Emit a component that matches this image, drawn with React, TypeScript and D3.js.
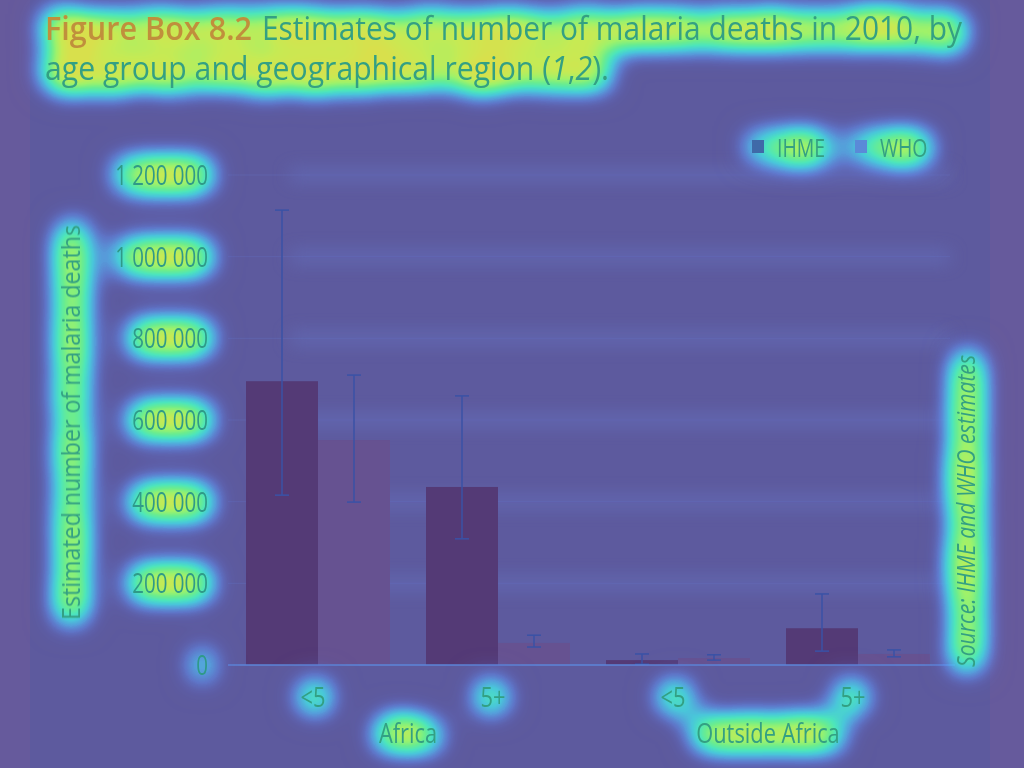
import React from "react";
import * as d3 from "d3";

const ageGroups = ["<5", "5+", "<5", "5+"];
const regions = ["Africa", "Outside Africa"];
const seriesNames = ["IHME", "WHO"];
const ihme = [695000, 436000, 12000, 90000];
const ihmeLow = [416000, 309000, 2000, 34000];
const ihmeHigh = [1114000, 659000, 27000, 174000];
const who = [551000, 54000, 17000, 27000];
const whoLow = [399000, 44000, 12000, 20000];
const whoHigh = [710000, 73000, 25000, 37000];
const yTicks = [0, 200000, 400000, 600000, 800000, 1000000, 1200000];

const W = 1024;
const H = 768;
const FONT = "'Open Sans', sans-serif";
const TEXT = "#33a083";
const BG = "#5d5a9e";
const IHME_C = "#543a76";
const WHO_C = "#665291";
const ERR = "#3a52a6";
const SX = 0.78;

const fmt = (v: number) => d3.format(",")(v).replace(/,/g, " ");

function T(props: any) {
  const { x, y, sx = SX, children, ...rest } = props;
  return (
    <text transform={`translate(${x},${y}) scale(${sx},1)`} {...rest}>
      {children}
    </text>
  );
}

export default function App() {
  const keys = ageGroups.map((_, i) => String(i));
  const x0 = d3.scaleBand().domain(keys).range([228, 948]).paddingInner(0.2).paddingOuter(0.1);
  const x1 = d3.scaleBand().domain(seriesNames).range([0, x0.bandwidth()]);
  const y = d3.scaleLinear().domain([0, 1200000]).range([665, 175]);
  const series = [
    { name: "IHME", vals: ihme, lo: ihmeLow, hi: ihmeHigh, color: IHME_C },
    { name: "WHO", vals: who, lo: whoLow, hi: whoHigh, color: WHO_C },
  ];
  const regionCenter = (r: number) => {
    const a = x0(String(r * 2))!;
    const b = x0(String(r * 2 + 1))! + x0.bandwidth();
    return (a + b) / 2;
  };
  return (
    <svg width={W} height={H} style={{ position: "absolute", left: 0, top: 0, display: "block" }}>
      <defs>
        <filter id="heat" x="-30%" y="-90%" width="160%" height="280%" colorInterpolationFilters="sRGB">
          <feMorphology in="SourceAlpha" operator="dilate" radius="4" result="d" />
          <feGaussianBlur in="d" stdDeviation="16" result="b" />
          <feColorMatrix in="b" type="matrix" values="0 0 0 1.45 0  0 0 0 1.45 0  0 0 0 1.45 0  0 0 0 1.45 0" result="g" />
          <feComponentTransfer in="g" result="c">
            <feFuncR type="table" tableValues="0.36 0.37 0.38 0.33 0.28 0.30 0.42 0.62 0.78 0.85" />
            <feFuncG type="table" tableValues="0.35 0.45 0.58 0.72 0.83 0.90 0.93 0.95 0.92 0.88" />
            <feFuncB type="table" tableValues="0.62 0.82 0.96 0.95 0.88 0.74 0.56 0.42 0.33 0.30" />
            <feFuncA type="table" tableValues="0 0.22 0.48 0.72 0.9 1 1 1 1 1" />
          </feComponentTransfer>
          <feMerge>
            <feMergeNode in="c" />
            <feMergeNode in="SourceGraphic" />
          </feMerge>
        </filter>
        <filter id="soft" x="-5%" y="-300%" width="110%" height="700%" colorInterpolationFilters="sRGB">
          <feGaussianBlur in="SourceGraphic" stdDeviation="9" />
        </filter>
      </defs>
      <rect x={0} y={0} width={W} height={H} fill="#665a9c" />
      <rect x={30} y={0} width={960} height={H} fill={BG} />

      {/* soft gridline bands */}
      <g filter="url(#soft)">
        {yTicks.filter((t) => t > 0).map((t) => (
          <line key={t} x1={290} x2={950} y1={y(t)} y2={y(t)} stroke="#6d86dc" strokeWidth={10} opacity={0.45} />
        ))}
      </g>
      {yTicks.filter((t) => t > 0).map((t) => (
        <line key={"g" + t} x1={228} x2={950} y1={y(t)} y2={y(t)} stroke="#6470c0" strokeWidth={1} opacity={0.4} />
      ))}

      {/* bars */}
      {series.map((s) =>
        s.vals.map((v, i) => (
          <rect
            key={s.name + i}
            x={x0(String(i))! + x1(s.name)!}
            y={y(v)}
            width={x1.bandwidth()}
            height={y(0) - y(v)}
            fill={s.color}
          />
        ))
      )}
      {/* error bars */}
      {series.map((s) =>
        s.vals.map((_, i) => {
          const cx = x0(String(i))! + x1(s.name)! + x1.bandwidth() / 2;
          return (
            <g key={"e" + s.name + i} stroke={ERR} strokeWidth={1.5}>
              <line x1={cx} x2={cx} y1={y(s.hi[i])} y2={y(s.lo[i])} />
              <line x1={cx - 7} x2={cx + 7} y1={y(s.hi[i])} y2={y(s.hi[i])} />
              <line x1={cx - 7} x2={cx + 7} y1={y(s.lo[i])} y2={y(s.lo[i])} />
            </g>
          );
        })
      )}
      <g filter="url(#soft)">
        <line x1={228} x2={955} y1={y(0) + 5} y2={y(0) + 5} stroke="#5fa0f0" strokeWidth={12} opacity={0.7} />
      </g>
      <line x1={228} x2={955} y1={y(0)} y2={y(0)} stroke="#5d86d8" strokeWidth={1.5} />

      <g filter="url(#heat)" fontFamily={FONT} fill={TEXT} fontWeight={400}>
        {/* title */}
        <text x={45} y={40} fontSize={32} fontWeight={600} fill="#c08f3c" textLength={207} lengthAdjust="spacingAndGlyphs">
          Figure Box 8.2
        </text>
        <text x={262} y={40} fontSize={33} textLength={700} lengthAdjust="spacingAndGlyphs">
          Estimates of number of malaria deaths in 2010, by
        </text>
        <T x={45} y={80} fontSize={33} sx={0.915}>
          age group and geographical region (<tspan fontStyle="italic">1</tspan>,<tspan fontStyle="italic">2</tspan>).
        </T>

        {/* y ticks */}
        {yTicks.map((t) => (
          <T key={t} x={208} y={y(t) + 10} fontSize={27} textAnchor="end" fill="#2f9a88" sx={0.76}>
            {fmt(t)}
          </T>
        ))}
        {/* y label */}
        <text
          transform={`translate(80, ${(225 + 620) / 2}) rotate(-90)`}
          textAnchor="middle"
          fontSize={26}
          textLength={395}
          lengthAdjust="spacingAndGlyphs"
        >
          Estimated number of malaria deaths
        </text>

        {/* x labels */}
        {ageGroups.map((g, i) => (
          <T key={"x" + i} x={x0(String(i))! + x0.bandwidth() / 2 - 5} y={707} fontSize={28} textAnchor="middle">
            {g}
          </T>
        ))}
        {regions.map((r, i) => (
          <T key={r} x={regionCenter(i)} y={743} fontSize={28} textAnchor="middle">
            {r}
          </T>
        ))}

        {/* legend */}
        {seriesNames.map((n, i) => (
          <g key={n} transform={`translate(${752 + i * 103}, 140)`}>
            <rect x={0} y={0} width={12} height={13} fill={i === 0 ? "#3f6aa8" : "#5a8ad8"} />
            <T x={25} y={17} fontSize={25}>
              {n}
            </T>
          </g>
        ))}

        {/* source */}
        <text
          transform={`translate(975, ${(355 + 667) / 2}) rotate(-90)`}
          textAnchor="middle"
          fontSize={25}
          fontStyle="italic"
          textLength={312}
          lengthAdjust="spacingAndGlyphs"
        >
          Source: IHME and WHO estimates
        </text>
      </g>
    </svg>
  );
}
